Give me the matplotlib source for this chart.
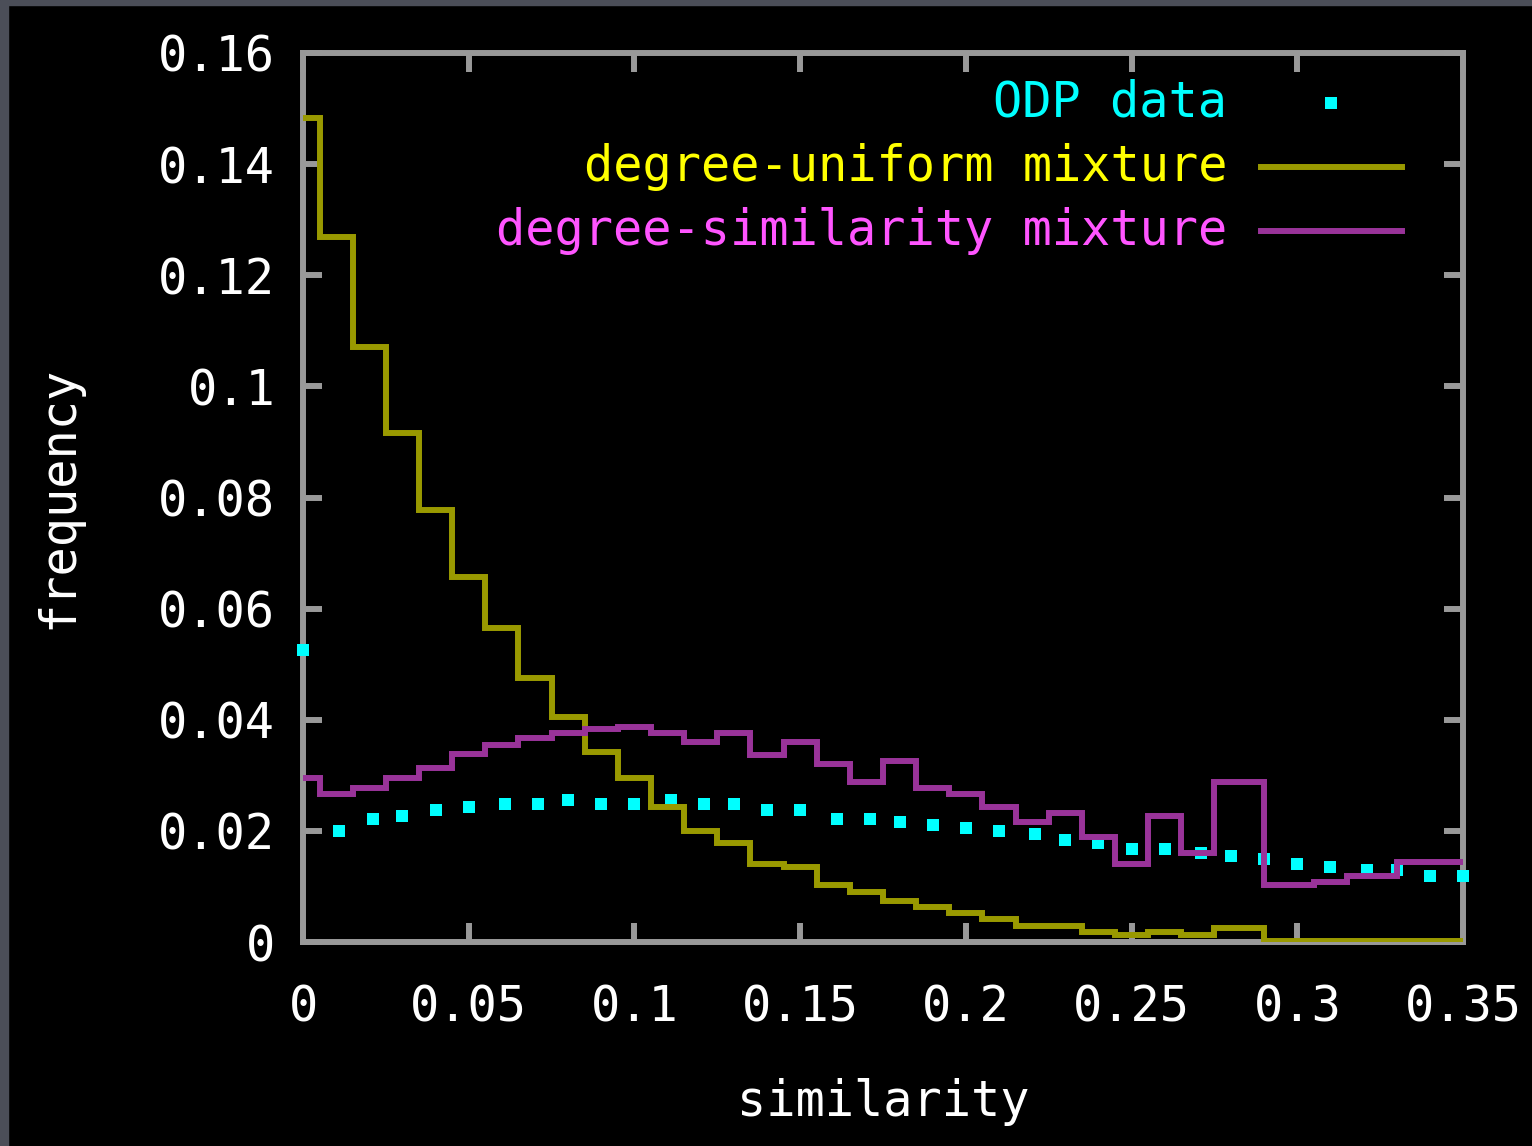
import numpy as np
import matplotlib
matplotlib.use('Agg')
import matplotlib.pyplot as plt
from matplotlib.patches import Rectangle

# step edges shared by both model curves (histeps style)
edges = [0, 0.005, 0.015, 0.025, 0.035, 0.045, 0.055, 0.065, 0.075, 0.085,
         0.095, 0.105, 0.115, 0.125, 0.135, 0.145, 0.155, 0.165, 0.175, 0.185,
         0.195, 0.205, 0.215, 0.225, 0.235, 0.245, 0.255, 0.265, 0.275, 0.29,
         0.305, 0.315, 0.33, 0.35]

uniform_mix = [0.1483, 0.1269, 0.1071, 0.0916, 0.0778, 0.0657, 0.0565, 0.0476,
               0.0405, 0.0342, 0.0295, 0.0243, 0.0200, 0.0178, 0.0140, 0.0135,
               0.0103, 0.0090, 0.0074, 0.0063, 0.0052, 0.0041, 0.0029, 0.0029,
               0.0018, 0.0013, 0.0018, 0.0013, 0.0025, 0.0002, 0.0002, 0.0002,
               0.0002]

similarity_mix = [0.0295, 0.0266, 0.0277, 0.0295, 0.0313, 0.0338, 0.0355, 0.0367,
                  0.0376, 0.0383, 0.0387, 0.0376, 0.0360, 0.0376, 0.0337, 0.0360,
                  0.0320, 0.0288, 0.0326, 0.0277, 0.0266, 0.0243, 0.0216, 0.0232,
                  0.0189, 0.0140, 0.0227, 0.0160, 0.0288, 0.0103, 0.0108, 0.0119,
                  0.0144]

odp_x = [0, 0.011, 0.021, 0.030, 0.040, 0.050, 0.061, 0.071, 0.080, 0.090,
         0.100, 0.111, 0.121, 0.130, 0.140, 0.150, 0.161, 0.171, 0.180, 0.190,
         0.200, 0.210, 0.221, 0.230, 0.240, 0.250, 0.260, 0.271, 0.280, 0.290,
         0.300, 0.310, 0.321, 0.330, 0.340, 0.350]
odp_y = [0.0526, 0.0200, 0.0221, 0.0227, 0.0238, 0.0243, 0.0248, 0.0248, 0.0256,
         0.0248, 0.0248, 0.0256, 0.0248, 0.0248, 0.0238, 0.0238, 0.0221, 0.0221,
         0.0216, 0.0211, 0.0205, 0.0200, 0.0194, 0.0184, 0.0178, 0.0167, 0.0167,
         0.0160, 0.0155, 0.0149, 0.0140, 0.0135, 0.0130, 0.0130, 0.0119, 0.0119]

xticks = [0, 0.05, 0.1, 0.15, 0.2, 0.25, 0.3, 0.35]
xticklabels = ['0', '0.05', '0.1', '0.15', '0.2', '0.25', '0.3', '0.35']
yticks = [0, 0.02, 0.04, 0.06, 0.08, 0.1, 0.12, 0.14, 0.16]
yticklabels = ['0', '0.02', '0.04', '0.06', '0.08', '0.1', '0.12', '0.14', '0.16']

labels = ['ODP data', 'degree-uniform mixture', 'degree-similarity mixture']

plt.rcParams['font.family'] = 'DejaVu Sans Mono'
fs = 35
gray = '#999999'
lw = 4.3

fig = plt.figure(figsize=(15.32, 11.46), dpi=100, facecolor='black')
# grey window edge on the left and top
fig.patches.append(Rectangle((0, 0), 8/1532, 1, transform=fig.transFigure, color='#4b4e58', zorder=10))
fig.patches.append(Rectangle((0, 1-5/1146), 1, 5/1146, transform=fig.transFigure, color='#4b4e58', zorder=10))

ax = fig.add_axes([303/1532, 204/1146, 1160/1532, 889/1146])
ax.set_facecolor('black')

ax.plot(odp_x, odp_y, linestyle='none', marker='s', markersize=8.8,
        markeredgewidth=0, color='#00ffff', clip_on=False, zorder=3)
ax.stairs(uniform_mix, edges, color='#999900', linewidth=lw, baseline=None, zorder=4)
ax.stairs(similarity_mix, edges, color='#993399', linewidth=lw, baseline=None, zorder=5)

ax.set_xlim(0, 0.35)
ax.set_ylim(0, 0.16)
ax.set_xticks(xticks)
ax.set_xticklabels(xticklabels)
ax.set_yticks(yticks)
ax.set_yticklabels(yticklabels)

for s in ax.spines.values():
    s.set_color(gray)
    s.set_linewidth(lw)
    s.set_zorder(2.5)
ax.tick_params(axis='both', direction='in', length=13.7, width=lw, color=gray,
               labelcolor='white', labelsize=fs, top=True, right=True)
ax.tick_params(axis='x', pad=30)
ax.tick_params(axis='y', pad=20)

ax.set_xlabel('similarity', fontsize=fs, color='white', va='top')
ax.xaxis.set_label_coords(0.5, -0.153)
ax.set_ylabel('frequency', fontsize=fs, color='white')
ax.yaxis.set_label_coords(-0.19, 0.5)

# legend, gnuplot style: text right aligned, sample to the right
text_colors = ['#00ffff', '#ffff00', '#ff55ff']
row_y = [0.9438, 0.8718, 0.7998]
for i in range(3):
    ax.text(0.7966, row_y[i], labels[i], transform=ax.transAxes, ha='right',
            va='center', fontsize=fs, color=text_colors[i])
ax.plot([0.8866], [row_y[0]], transform=ax.transAxes, linestyle='none', marker='s',
        markersize=8.8, markeredgewidth=0, color='#00ffff')
ax.plot([0.8259, 0.9474], [row_y[1], row_y[1]], transform=ax.transAxes, color='#999900', linewidth=lw)
ax.plot([0.8259, 0.9474], [row_y[2], row_y[2]], transform=ax.transAxes, color='#993399', linewidth=lw)

plt.savefig('out.png', dpi=100, facecolor='black')
